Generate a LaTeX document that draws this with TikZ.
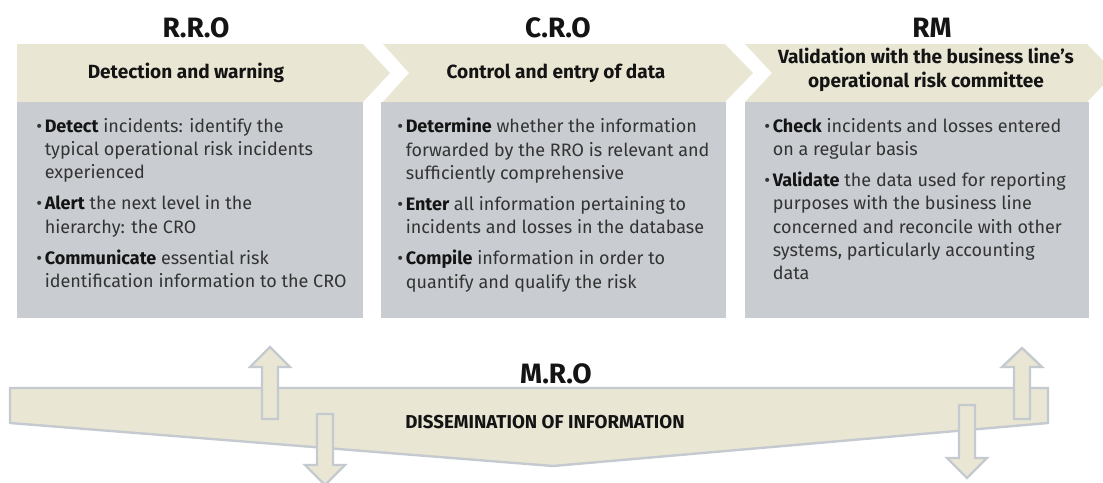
\documentclass[tikz,border=0pt]{standalone}
\usepackage{fontspec}
\setmainfont{Fira Sans}
\usepackage{tikz}
\usetikzlibrary{positioning}
\definecolor{Ink}{HTML}{141414}
\definecolor{Body}{HTML}{333333}
\definecolor{Sand}{HTML}{E9E6D3}
\definecolor{Slate}{HTML}{C9CDD1}
\definecolor{Edge}{HTML}{C5CAD0}
\newcommand{\bul}{\textbullet\hspace{2pt}}
\newcommand{\ind}{\hphantom{\textbullet\hspace{2pt}}}
\tikzset{
  title/.style={font=\fontsize{21}{23}\selectfont\bfseries,text=Ink,inner sep=0pt},
  headtext/.style={font=\fontsize{14.3}{18}\selectfont\bfseries,text=Ink,align=center,inner sep=0pt},
  bullets/.style={font=\fontsize{13.5}{17.4}\selectfont,text=Body,align=left,anchor=north west,inner sep=0pt},
  chevron/.style={fill=Sand,draw=none},
  panel/.style={fill=Slate,draw=none},
  band/.style={fill=Sand,draw=Edge,line width=1.8pt,line join=miter},
  blockarrow/.style={fill=Sand,draw=Edge,line width=1.8pt,line join=miter}
}

\begin{document}
\begin{tikzpicture}[x=0.75pt,y=-0.75pt]
  \useasboundingbox (0,0) rectangle (1103,482);
  % chevrons and panels
  \fill[chevron] (17,44) -- (363,44) -- (390,73) -- (363,102) -- (17,102) -- cycle;
  \fill[chevron] (383,44) -- (725,44) -- (753,73) -- (725,102) -- (383,102) -- (409,73) -- cycle;
  \fill[chevron] (745,44) -- (1087,44) -- (1115,73) -- (1087,102) -- (745,102) -- (772,73) -- cycle;
  \fill[panel] (17,102) rectangle (363,318);
  \fill[panel] (381,102) rectangle (726,318);
  \fill[panel] (745,102) rectangle (1089,318);
  \node[title] (rroTitle) at (196,28) {R.R.O};
  \node[title] (croTitle) at (558,28) {C.R.O};
  \node[title] (rmTitle) at (932,28) {RM};
  \node[headtext] (rroHead) at (186,73) {Detection and warning};
  \node[headtext] (croHead) at (556,73) {Control and entry of data};
  \node[headtext] (rmHead) at (926,70) {Validation with the business line’s\\operational risk committee};
  \node[bullets] (rroList) at (36,118) {\bul\textbf{\color{Ink}Detect} incidents: identify the\\\ind typical operational risk incidents\\\ind experienced\\[6pt]
    \bul\textbf{\color{Ink}Alert} the next level in the\\\ind hierarchy: the CRO\\[6pt]
    \bul\textbf{\color{Ink}Communicate} essential risk\\\ind identification information to the CRO};
  \node[bullets] (croList) at (397,118) {\bul\textbf{\color{Ink}Determine} whether the information\\\ind forwarded by the RRO is relevant and\\\ind sufficiently comprehensive\\[6pt]
    \bul\textbf{\color{Ink}Enter} all information pertaining to\\\ind incidents and losses in the database\\[6pt]
    \bul\textbf{\color{Ink}Compile} information in order to\\\ind quantify and qualify the risk};
  \node[bullets] (rmList) at (764,118) {\bul\textbf{\color{Ink}Check} incidents and losses entered\\\ind on a regular basis\\[6pt]
    \bul\textbf{\color{Ink}Validate} the data used for reporting\\\ind purposes with the business line\\\ind concerned and reconcile with other\\\ind systems, particularly accounting\\\ind data};
  % dissemination band
  \draw[band] (10,388) -- (1048,388) -- (1048,423) -- (553,466) -- (10,423) -- cycle;
  \node[title] (mroTitle) at (556,374) {M.R.O};
  \node[headtext,font=\fontsize{14}{16}\selectfont\bfseries] (mroHead) at (545,422) {DISSEMINATION OF INFORMATION};
  % up and down arrows
  \draw[blockarrow] (262,419) -- (262,367) -- (250,367) -- (270,347) -- (290,367) -- (278,367) -- (278,419) -- cycle;
  \draw[blockarrow] (317,414) -- (317,465) -- (305,465) -- (325,485) -- (345,465) -- (333,465) -- (333,414) -- cycle;
  \draw[blockarrow] (959,405) -- (959,458) -- (947,458) -- (967,478) -- (987,458) -- (975,458) -- (975,405) -- cycle;
  \draw[blockarrow] (1014,419) -- (1014,367) -- (1002,367) -- (1022,348) -- (1042,367) -- (1030,367) -- (1030,419) -- cycle;
\end{tikzpicture}
\end{document}
